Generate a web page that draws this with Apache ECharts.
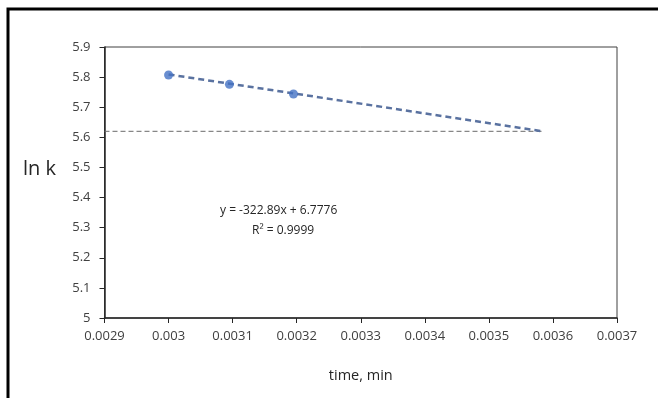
<!DOCTYPE html>
<html>
<head>
<meta charset="utf-8">
<script src="https://cdn.jsdelivr.net/npm/echarts@6/dist/echarts.min.js"></script>
<style>
  html, body { margin: 0; padding: 0; background: #fff; }
  #chart { width: 658px; height: 398px; }
</style>
</head>
<body>
<div id="chart"></div>
<script>
// measured points (x = time, y = ln k)
const timeVals = [0.003, 0.003095, 0.003195];
const lnkVals = [5.807, 5.776, 5.744];
// trendline ends
const trendX = [0.003, 0.003584];
const trendY = [5.809, 5.620];
// horizontal guide line
const guideX = [0.0029, 0.003584];
const guideY = [5.62, 5.62];
const eqLine = 'y = -322.89x + 6.7776';
const r2Line = 'R² = 0.9999';

const font = 'Open Sans';
const myChart = echarts.init(document.getElementById('chart'));
const option = {
  animation: false,
  backgroundColor: '#fff',
  grid: {
    left: 104.5,
    top: 47,
    right: 41,
    bottom: 80,
    show: true,
    borderColor: '#404040',
    borderWidth: 1,
  },
  xAxis: {
    type: 'value',
    min: 0.0029,
    max: 0.0037,
    interval: 0.0001,
    name: 'time, min',
    nameLocation: 'middle',
    nameGap: 50,
    nameTextStyle: { color: '#262626', fontSize: 14.5, fontFamily: font },
    axisLine: { show: true, lineStyle: { color: '#262626', width: 1.5 } },
    axisTick: { show: true, length: 5, lineStyle: { color: '#262626' } },
    axisLabel: { color: '#404040', fontSize: 13, fontFamily: font, margin: 12 },
    splitLine: { show: false },
  },
  yAxis: {
    type: 'value',
    min: 5,
    max: 5.9,
    interval: 0.1,
    axisLine: { show: true, lineStyle: { color: '#262626', width: 1.5 } },
    axisTick: { show: true, length: 5, lineStyle: { color: '#262626' } },
    axisLabel: { color: '#404040', fontSize: 13, fontFamily: font, margin: 14 },
    splitLine: { show: false },
  },
  series: [
    {
      type: 'line',
      data: guideX.map((x, i) => [x, guideY[i]]),
      showSymbol: false,
      lineStyle: { color: '#6a6a6a', width: 1, type: [5, 3] },
      z: 1,
    },
    {
      type: 'line',
      data: trendX.map((x, i) => [x, trendY[i]]),
      showSymbol: false,
      lineStyle: { color: '#5a72a0', width: 2.5, type: [6, 4] },
      z: 2,
    },
    {
      type: 'scatter',
      data: timeVals.map((x, i) => [x, lnkVals[i]]),
      symbol: 'circle',
      symbolSize: 9,
      itemStyle: { color: '#4472c4' },
      z: 3,
    },
  ],
  graphic: [
    {
      type: 'rect',
      shape: { x: 8, y: 9, width: 660, height: 400 },
      style: { fill: 'none', stroke: '#000', lineWidth: 3 },
    },
    {
      type: 'text',
      left: 23,
      top: 159,
      style: { text: 'ln k', fontSize: 20, fontFamily: font, fill: '#262626' },
    },
    {
      type: 'text',
      left: 220,
      top: 205,
      style: { text: eqLine, fontSize: 12, fontFamily: font, fill: '#262626' },
    },
    {
      type: 'text',
      left: 252,
      top: 225,
      style: { text: r2Line, fontSize: 12, fontFamily: font, fill: '#262626' },
    },
  ],
};
option && myChart.setOption(option);
</script>
</body>
</html>
